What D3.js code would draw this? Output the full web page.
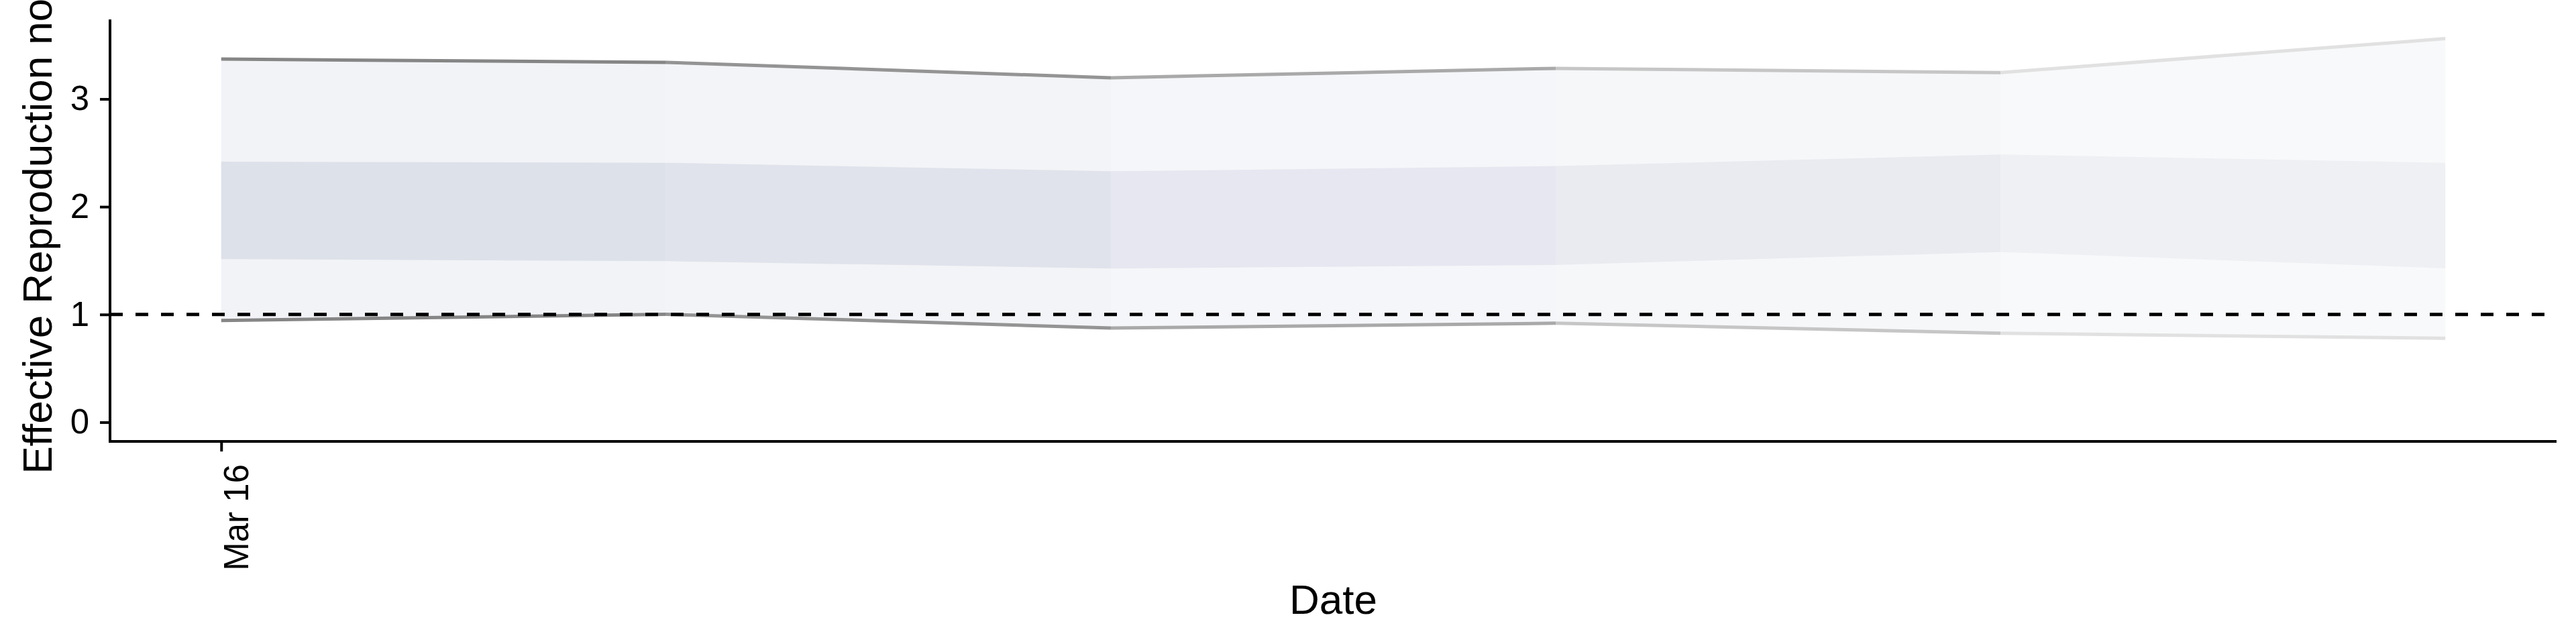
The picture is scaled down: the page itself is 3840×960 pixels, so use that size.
<!DOCTYPE html>
<html>
<head>
<meta charset="utf-8">
<script src="https://cdn.jsdelivr.net/npm/d3@7"></script>
<style>
  html, body { margin: 0; padding: 0; background: #ffffff; }
  svg { display: block; font-family: "Liberation Sans", Arial, Helvetica, sans-serif; }
</style>
</head>
<body>
<svg id="chart" width="3840" height="960"></svg>
<script>
// ---- data ----
const dates    = ["2020-03-16", "2020-03-23", "2020-03-30", "2020-04-06", "2020-04-13", "2020-04-20"];
const upper90  = [3.37, 3.34, 3.197, 3.284, 3.245, 3.56];
const upper50  = [2.418, 2.408, 2.329, 2.377, 2.485, 2.408];
const lower50  = [1.514, 1.495, 1.427, 1.459, 1.58, 1.428];
const lower90  = [0.944, 1.002, 0.874, 0.919, 0.826, 0.779];
const xTickDates = ["2020-03-16"];
const yTicks   = [0, 1, 2, 3];
const refLine  = 1;
const xTitle = "Date";
const yTitle = "Effective Reproduction no.";

// ---- styles (per segment shading, fading with time) ----
const innerFill = ["#dde1e9", "#e0e3eb", "#e6e7f0", "#eaebf0", "#eff0f4"];
const outerFill = ["#f2f3f7", "#f3f4f7", "#f5f6f9", "#f6f7f9", "#f8f9fa"];
const lineCol   = ["#868686", "#949494", "#a9a9a9", "#c6c6c6", "#e1e1e1"];

const parse = d3.utcParse("%Y-%m-%d");
const rows = dates.map((d, i) => ({
  date: parse(d), u90: upper90[i], u50: upper50[i], l50: lower50[i], l90: lower90[i]
}));

const svg = d3.select("#chart");
const panel = { left: 164, right: 3811, top: 29, bottom: 658 };

// x scale with ggplot-like 5% expansion
const xExt = d3.extent(rows, d => d.date);
const span = xExt[1] - xExt[0];
const x = d3.scaleUtc()
  .domain([new Date(+xExt[0] - 0.05 * span), new Date(+xExt[1] + 0.05 * span)])
  .range([panel.left, panel.right]);

// y scale: data range [0, max] expanded by 5%
const yMin = 0, yMax = d3.max(upper90);
const yR = yMax - yMin;
const y = d3.scaleLinear()
  .domain([yMin - 0.05 * yR, yMax + 0.05 * yR])
  .range([panel.bottom, panel.top]);

// ---- ribbons per segment ----
const g = svg.append("g");
const areaOuter = d3.area().x(d => x(d.date)).y0(d => y(d.l90)).y1(d => y(d.u90));
const areaInner = d3.area().x(d => x(d.date)).y0(d => y(d.l50)).y1(d => y(d.u50));
const lineU = d3.line().x(d => x(d.date)).y(d => y(d.u90));
const lineL = d3.line().x(d => x(d.date)).y(d => y(d.l90));

const segs = d3.range(rows.length - 1).map(i => [rows[i], rows[i + 1]]);

segs.forEach((s, i) => {
  g.append("path").attr("d", areaOuter(s)).attr("fill", outerFill[i]);
  g.append("path").attr("d", areaInner(s)).attr("fill", innerFill[i]);
});
segs.forEach((s, i) => {
  g.append("path").attr("d", lineU(s)).attr("fill", "none")
    .attr("stroke", lineCol[i]).attr("stroke-width", 5);
  g.append("path").attr("d", lineL(s)).attr("fill", "none")
    .attr("stroke", lineCol[i]).attr("stroke-width", 5);
});

// reference line at R = 1
svg.append("line")
  .attr("x1", panel.left).attr("x2", panel.right)
  .attr("y1", y(refLine)).attr("y2", y(refLine))
  .attr("stroke", "#000").attr("stroke-width", 5)
  .attr("stroke-dasharray", "19,19");

// ---- axes ----
const yAxis = d3.axisLeft(y).tickValues(yTicks).tickSize(15).tickPadding(16).tickFormat(d3.format("d"));
const yg = svg.append("g").attr("transform", `translate(${panel.left},0)`).call(yAxis);
yg.select(".domain").remove();
yg.selectAll(".tick line").attr("stroke", "#000").attr("stroke-width", 4);
yg.selectAll(".tick text").attr("font-size", 51).attr("fill", "#000")
  .attr("font-family", "'Liberation Sans', Arial, sans-serif");

const xAxis = d3.axisBottom(x).tickValues(xTickDates.map(parse)).tickSize(15)
  .tickFormat(d3.utcFormat("%b %d"));
const xg = svg.append("g").attr("transform", `translate(0,${panel.bottom})`).call(xAxis);
xg.select(".domain").remove();
xg.selectAll(".tick line").attr("stroke", "#000").attr("stroke-width", 4);
xg.selectAll(".tick text")
  .attr("font-size", 51).attr("fill", "#000")
  .attr("font-family", "'Liberation Sans', Arial, sans-serif")
  .attr("text-anchor", "end")
  .attr("dy", null)
  .attr("y", 0)
  .attr("transform", "translate(40,34) rotate(-90)");

// axis lines (theme_classic)
svg.append("line").attr("x1", panel.left).attr("x2", panel.left)
  .attr("y1", panel.top).attr("y2", panel.bottom + 2)
  .attr("stroke", "#000").attr("stroke-width", 4);
svg.append("line").attr("x1", panel.left - 2).attr("x2", panel.right)
  .attr("y1", panel.bottom).attr("y2", panel.bottom)
  .attr("stroke", "#000").attr("stroke-width", 4);

// ---- titles ----
svg.append("text")
  .attr("x", (panel.left + panel.right) / 2).attr("y", 915)
  .attr("text-anchor", "middle").attr("font-size", 62).attr("fill", "#000")
  .text(xTitle);

svg.append("text")
  .attr("transform", `translate(77,${(panel.top + panel.bottom) / 2}) rotate(-90)`)
  .attr("text-anchor", "middle").attr("font-size", 62).attr("fill", "#000")
  .text(yTitle);
</script>
</body>
</html>
